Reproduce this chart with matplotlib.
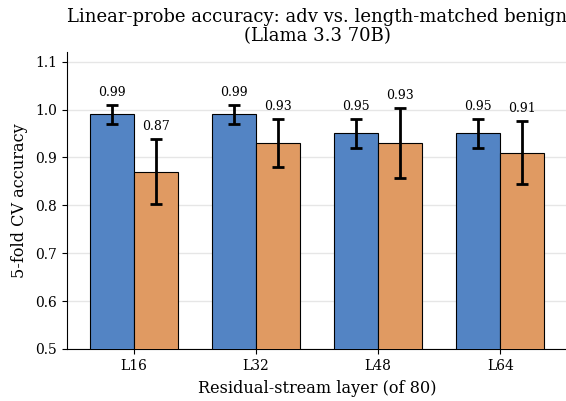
import numpy as np
import matplotlib.pyplot as plt

plt.rcParams["font.family"] = "DejaVu Serif"

layers = ["L16", "L32", "L48", "L64"]
adv_acc = [0.99, 0.99, 0.95, 0.95]
adv_err = [0.020, 0.020, 0.031, 0.031]
benign_acc = [0.87, 0.93, 0.93, 0.91]
benign_err = [0.068, 0.051, 0.074, 0.066]

BLUE = "#5384C4"
ORANGE = "#E09A62"


def plot_probe_accuracy():
    fig = plt.figure(figsize=(5.66, 4.01), dpi=100)
    ax = fig.add_axes([0.118, 0.130, 0.884, 0.740])

    x = np.arange(len(layers))
    w = 0.36
    ax.bar(x - w / 2, adv_acc, w, yerr=adv_err, color=BLUE, edgecolor="black",
           linewidth=0.8, capsize=4, error_kw={"elinewidth": 2, "capthick": 2},
           zorder=3)
    ax.bar(x + w / 2, benign_acc, w, yerr=benign_err, color=ORANGE, edgecolor="black",
           linewidth=0.8, capsize=4, error_kw={"elinewidth": 2, "capthick": 2},
           zorder=3)

    for i in range(len(layers)):
        ax.text(x[i] - w / 2, adv_acc[i] + adv_err[i] + 0.012, f"{adv_acc[i]:.2f}",
                ha="center", va="bottom", fontsize=9)
        ax.text(x[i] + w / 2, benign_acc[i] + benign_err[i] + 0.012, f"{benign_acc[i]:.2f}",
                ha="center", va="bottom", fontsize=9)

    ax.set_xticks(x)
    ax.set_xticklabels(layers)
    ax.set_ylim(0.5, 1.12)
    ax.set_yticks([0.5, 0.6, 0.7, 0.8, 0.9, 1.0, 1.1])
    ax.tick_params(labelsize=10)
    ax.grid(axis="y", color="#e6e6e6", linewidth=1, zorder=0)
    ax.spines["top"].set_visible(False)
    ax.spines["right"].set_visible(False)
    ax.set_xlabel("Residual-stream layer (of 80)", fontsize=11.6, labelpad=5)
    ax.set_ylabel("5-fold CV accuracy", fontsize=11.6, labelpad=5)
    ax.set_title("Linear-probe accuracy: adv vs. length-matched benign\n(Llama 3.3 70B)",
                 fontsize=13, linespacing=1.05, pad=8)

    plt.savefig("out.png", dpi=100)
    plt.close()


if __name__ == "__main__":
    plot_probe_accuracy()
